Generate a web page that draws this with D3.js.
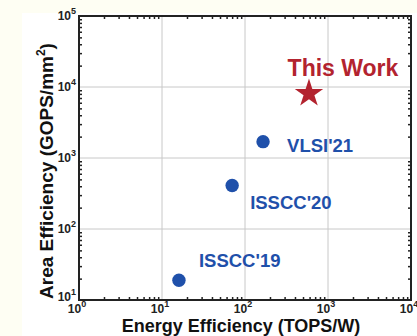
<!DOCTYPE html>
<html>
<head>
<meta charset="utf-8">
<script src="https://cdn.jsdelivr.net/npm/d3@7"></script>
<style>
  body { margin: 0; background: #fefef3; }
  svg { display: block; font-family: "Liberation Sans", Arial, sans-serif; }
</style>
</head>
<body>
<div id="chart"></div>
<script>
// data
const works = ["ISSCC'19", "ISSCC'20", "VLSI'21"];
const energyEff = [16, 70, 165];       // TOPS/W
const areaEff = [19, 410, 1700];       // GOPS/mm^2
const thisWork = { name: "This Work", energy: 590, area: 8100 };
const xTicks = [1, 10, 100, 1000, 10000];
const yTicks = [10, 100, 1000, 10000, 100000];

const width = 417, height = 336;
const margin = { top: 16, right: 6, bottom: 36, left: 79 };
const blue = "#1f50aa", red = "#b3232f";

const svg = d3.select("#chart").append("svg")
  .attr("width", width)
  .attr("height", height);

svg.append("rect")
  .attr("x", 22).attr("y", 13)
  .attr("width", width - 22).attr("height", height - 13)
  .attr("fill", "#fff");

const x = d3.scaleLog().domain([1, 1e4]).range([margin.left, width - margin.right]);
const y = d3.scaleLog().domain([10, 1e5]).range([height - margin.bottom, margin.top]);

const minorX = [], minorY = [];
for (let d = 1; d < 1e4; d *= 10) for (let k = 2; k <= 9; k++) minorX.push(d * k);
for (let d = 10; d < 1e5; d *= 10) for (let k = 2; k <= 9; k++) minorY.push(d * k);

// grid
svg.append("g")
  .attr("stroke", "#c8c8c8").attr("stroke-width", 1)
  .selectAll("line").data(xTicks.slice(1, -1)).join("line")
  .attr("x1", d => x(d)).attr("x2", d => x(d))
  .attr("y1", y(1e5)).attr("y2", y(10));
svg.append("g")
  .attr("stroke", "#c8c8c8").attr("stroke-width", 1)
  .selectAll("line").data(yTicks.slice(1, -1)).join("line")
  .attr("y1", d => y(d)).attr("y2", d => y(d))
  .attr("x1", x(1)).attr("x2", x(1e4));

// inward ticks on all four sides
function ticks(g, axis) {
  g.call(axis).call(s => s.select(".domain").remove())
    .call(s => s.selectAll("text").remove())
    .call(s => s.selectAll("line").attr("stroke", "#222").attr("stroke-width", 1.5));
}
svg.append("g").attr("transform", `translate(0,${y(10)})`)
  .call(ticks, d3.axisBottom(x).tickValues(minorX).tickSize(-3));
svg.append("g").attr("transform", `translate(0,${y(1e5)})`)
  .call(ticks, d3.axisTop(x).tickValues(minorX).tickSize(-3));
svg.append("g").attr("transform", `translate(${x(1)},0)`)
  .call(ticks, d3.axisLeft(y).tickValues(minorY).tickSize(-3));
svg.append("g").attr("transform", `translate(${x(1e4)},0)`)
  .call(ticks, d3.axisRight(y).tickValues(minorY).tickSize(-3));

// frame
svg.append("rect")
  .attr("x", x(1)).attr("y", y(1e5))
  .attr("width", x(1e4) - x(1)).attr("height", y(10) - y(1e5))
  .attr("fill", "none").attr("stroke", "#222").attr("stroke-width", 2);

// tick labels with superscript exponents
function powLabel(sel) {
  sel.each(function(d) {
    const t = d3.select(this);
    t.append("tspan").text("10");
    t.append("tspan").attr("dy", -6).attr("font-size", 9).text(Math.round(Math.log10(d)));
  });
}
svg.append("g").attr("font-size", 12).attr("font-weight", "bold").attr("fill", "#222")
  .selectAll("text").data(xTicks).join("text")
  .attr("x", d => x(d) - 2).attr("y", y(10) + 13)
  .attr("text-anchor", "middle")
  .call(powLabel);
svg.append("g").attr("font-size", 12).attr("font-weight", "bold").attr("fill", "#222")
  .selectAll("text").data(yTicks).join("text")
  .attr("x", x(1) - 3).attr("y", (d, i) => y(d) + (i === 0 ? 1 : 4))
  .attr("text-anchor", "end")
  .call(powLabel);

// axis titles
svg.append("text")
  .attr("x", (x(1) + x(1e4)) / 2 - 4).attr("y", 332)
  .attr("text-anchor", "middle")
  .attr("font-size", 18).attr("font-weight", "bold").attr("fill", "#111")
  .text("Energy Efficiency (TOPS/W)");
const yl = svg.append("text")
  .attr("transform", `translate(53,${(y(10) + y(1e5)) / 2 + 13}) rotate(-90)`)
  .attr("text-anchor", "middle")
  .attr("font-size", 19).attr("font-weight", "bold").attr("fill", "#111");
yl.append("tspan").text("Area Efficiency (GOPS/mm");
yl.append("tspan").attr("dy", -8).attr("font-size", 12).text("2");
yl.append("tspan").attr("dy", 8).text(")");

// prior works
const labelOffset = [[20, -13], [18, 24], [24, 10]];
const pts = svg.append("g");
pts.selectAll("circle").data(works).join("circle")
  .attr("cx", (d, i) => x(energyEff[i]))
  .attr("cy", (d, i) => y(areaEff[i]))
  .attr("r", 6.7)
  .attr("fill", blue);
pts.selectAll("text").data(works).join("text")
  .attr("x", (d, i) => x(energyEff[i]) + labelOffset[i][0])
  .attr("y", (d, i) => y(areaEff[i]) + labelOffset[i][1])
  .attr("font-size", 18.5).attr("font-weight", "bold").attr("fill", blue)
  .text(d => d);

// this work
svg.append("path")
  .attr("d", d3.symbol(d3.symbolStar, 250)())
  .attr("transform", `translate(${x(thisWork.energy)},${y(thisWork.area)})`)
  .attr("fill", red);
svg.append("text")
  .attr("x", x(thisWork.energy) + 34).attr("y", y(thisWork.area) - 17)
  .attr("text-anchor", "middle")
  .attr("font-size", 23).attr("font-weight", "bold").attr("fill", red)
  .text(thisWork.name);
</script>
</body>
</html>
